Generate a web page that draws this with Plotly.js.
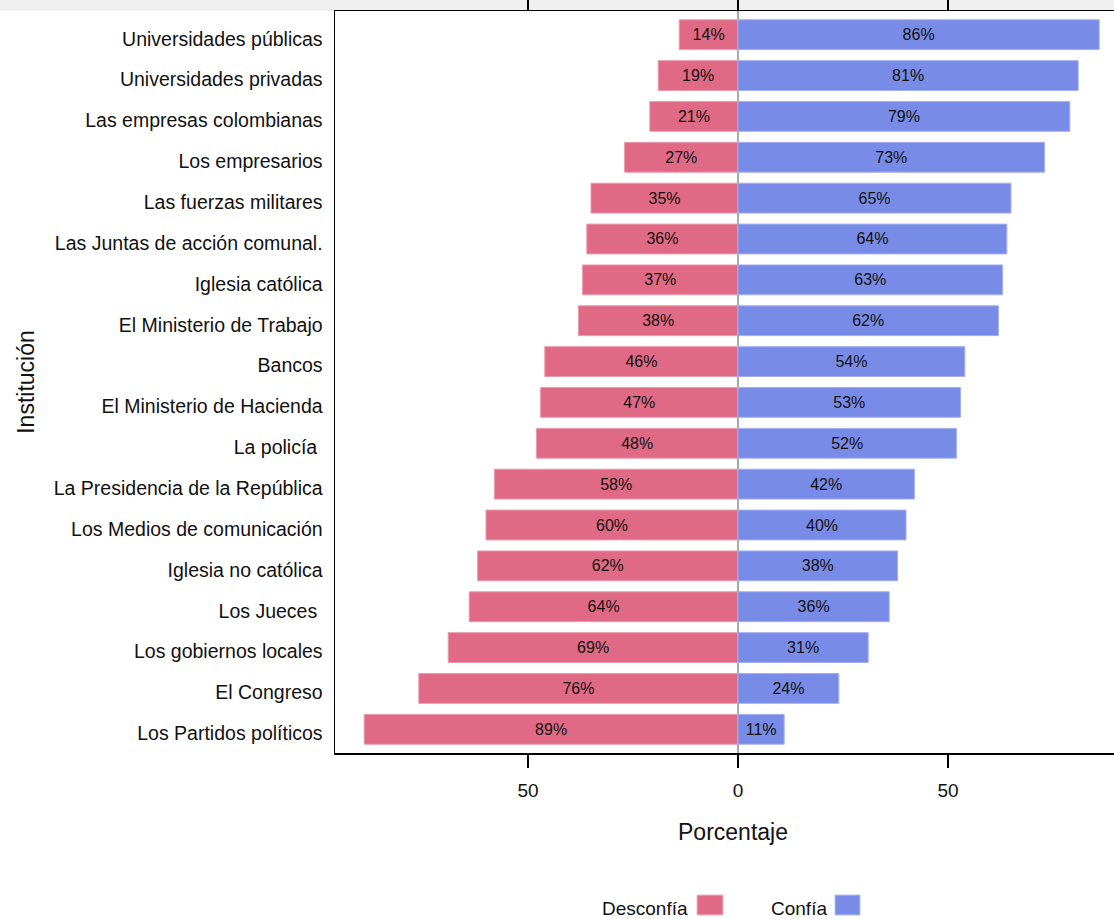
<!DOCTYPE html>
<html>
<head>
<meta charset="utf-8">
<script src="https://cdn.plot.ly/plotly-3.0.1.min.js"></script>
<style>
html, body { margin: 0; padding: 0; overflow: hidden; background: #ffffff; }
#chart { width: 1131px; height: 919px; }
</style>
</head>
<body>
<div id="chart"></div>
<script>
// Data
const instituciones = [
  "Universidades públicas",
  "Universidades privadas",
  "Las empresas colombianas",
  "Los empresarios",
  "Las fuerzas militares",
  "Las Juntas de acción comunal.",
  "Iglesia católica",
  "El Ministerio de Trabajo",
  "Bancos",
  "El Ministerio de Hacienda",
  "La policía\u00a0",
  "La Presidencia de la República",
  "Los Medios de comunicación",
  "Iglesia no católica",
  "Los Jueces\u00a0",
  "Los gobiernos locales",
  "El Congreso",
  "Los Partidos políticos"
];
const desconfia = [14, 19, 21, 27, 35, 36, 37, 38, 46, 47, 48, 58, 60, 62, 64, 69, 76, 89];
const confia    = [86, 81, 79, 73, 65, 64, 63, 62, 54, 53, 52, 42, 40, 38, 36, 31, 24, 11];
const seriesNames = ["Desconfía", "Confía"];
const tickVals = [-50, 0, 50];
const tickLabels = ["50", "0", "50"];

const pink = "#E06A85";
const blue = "#788BE6";

const traces = [
  {
    type: "bar", orientation: "h", name: seriesNames[0],
    y: instituciones, x: desconfia.map(v => -v),
    text: desconfia.map(v => v + "%"),
    textposition: "inside", insidetextanchor: "middle", constraintext: "none", textangle: 0,
    textfont: { family: "Liberation Sans, Arial, sans-serif", size: 16, color: "#111111" },
    marker: { color: pink, line: { color: "#EC9AAD", width: 1 } },
    width: 0.73, hoverinfo: "skip"
  },
  {
    type: "bar", orientation: "h", name: seriesNames[1],
    y: instituciones, x: confia,
    text: confia.map(v => v + "%"),
    textposition: "inside", insidetextanchor: "middle", constraintext: "none", textangle: 0,
    textfont: { family: "Liberation Sans, Arial, sans-serif", size: 16, color: "#111111" },
    marker: { color: blue, line: { color: "#A3B0F0", width: 1 } },
    width: 0.73, hoverinfo: "skip"
  }
];

const plotW = 1131 - 335, plotH = 753 - 11;
function px(xp) { return (xp - 335) / plotW; }
function py(yp) { return (753 - yp) / plotH; }

const layout = {
  width: 1131, height: 919,
  margin: { l: 335, r: 0, t: 11, b: 166, pad: 0 },
  paper_bgcolor: "#ffffff", plot_bgcolor: "#ffffff",
  font: { family: "Liberation Sans, Arial, sans-serif", color: "#111111", size: 19 },
  barmode: "relative",
  showlegend: false,
  xaxis: {
    range: [-95.95, 93.57],
    tickvals: tickVals, ticktext: tickLabels,
    ticks: "outside", ticklen: 13, tickwidth: 1.5, tickcolor: "#000000",
    ticklabelstandoff: 7,
    showline: true, linecolor: "#000000", linewidth: 1.5, mirror: "ticks",
    showgrid: false,
    zeroline: true, zerolinecolor: "#aaaaaa", zerolinewidth: 1.5,
    tickfont: { size: 19 },
    title: { text: "Porcentaje", font: { size: 23 }, standoff: 23 }
  },
  yaxis: {
    type: "category",
    range: [17.58, -0.58],
    ticks: "", showgrid: false, zeroline: false,
    showline: true, linecolor: "#000000", linewidth: 1.5, mirror: true,
    ticklabelstandoff: 7,
    ticklabelshift: -4,
    tickfont: { size: 19.5 },
    title: { text: "Institución", font: { size: 23 }, standoff: 12 }
  },
  shapes: [
    { type: "rect", xref: "paper", yref: "paper", layer: "below",
      x0: px(0), x1: px(1131), y0: py(11), y1: py(0),
      fillcolor: "#f0f0f0", line: { width: 0 } },
    { type: "rect", xref: "paper", yref: "paper",
      x0: px(697), x1: px(723), y0: py(915), y1: py(895),
      fillcolor: pink, line: { color: "#F2B8C6", width: 1 } },
    { type: "rect", xref: "paper", yref: "paper",
      x0: px(835), x1: px(860), y0: py(915), y1: py(895),
      fillcolor: blue, line: { color: "#B8C2F4", width: 1 } }
  ],
  annotations: [
    { xref: "paper", yref: "paper", x: px(690), y: py(908), xanchor: "right", yanchor: "middle",
      text: seriesNames[0], showarrow: false, font: { size: 19 } },
    { xref: "paper", yref: "paper", x: px(829), y: py(908), xanchor: "right", yanchor: "middle",
      text: seriesNames[1], showarrow: false, font: { size: 19 } }
  ]
};

Plotly.newPlot("chart", traces, layout, { displayModeBar: false, staticPlot: true });
</script>
</body>
</html>
